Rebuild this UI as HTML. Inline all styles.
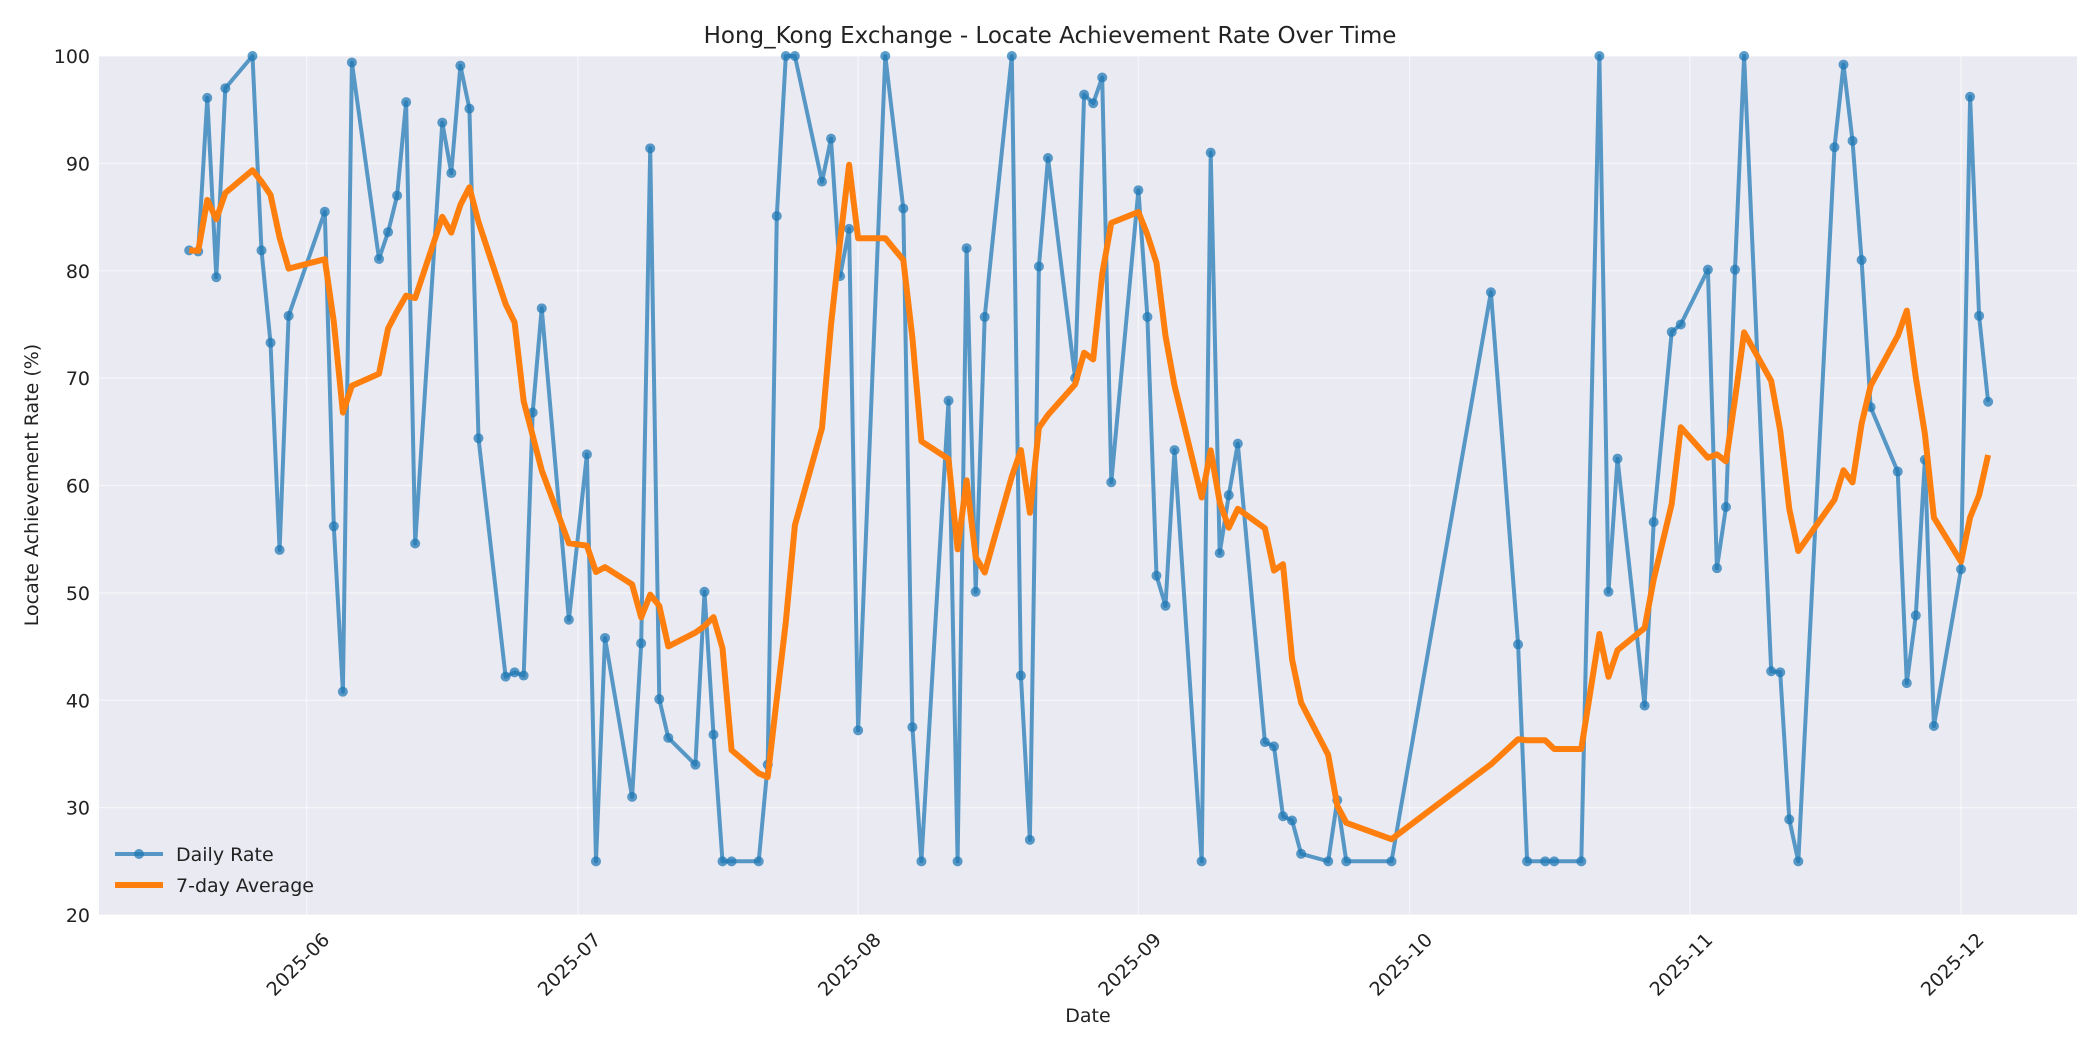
<!DOCTYPE html>
<html><head><meta charset="utf-8"><style>
body{margin:0;background:#fff}
svg{display:block;font-family:"DejaVu Sans","Liberation Sans",sans-serif}
</style></head><body>
<svg id="chart" width="2100" height="1050" viewBox="0 0 2100 1050" xmlns="http://www.w3.org/2000/svg">
<rect x="0" y="0" width="2100" height="1050" fill="#fff"/>
<rect x="99" y="56" width="1978" height="859" fill="#eaeaf2"/>
<g id="grid"></g>
<g id="ticks"></g>
<g id="series"></g>
<text x="1050" y="43" font-size="23" text-anchor="middle" fill="#222">Hong_Kong Exchange - Locate Achievement Rate Over Time</text>
<text x="1088" y="1022" font-size="19" text-anchor="middle" fill="#222">Date</text>
<text transform="translate(38,485) rotate(-90)" font-size="19" text-anchor="middle" fill="#222">Locate Achievement Rate (%)</text>
<g>
<line x1="115" y1="854" x2="163" y2="854" stroke="#1f77b4" stroke-opacity="0.72" stroke-width="4"/>
<circle cx="139" cy="854" r="5" fill="#1f77b4" fill-opacity="0.72"/>
<text x="176" y="861" font-size="19" fill="#222">Daily Rate</text>
<line x1="115" y1="885" x2="163" y2="885" stroke="#ff7f0e" stroke-width="6"/>
<text x="176" y="892" font-size="19" fill="#222">7-day Average</text>
</g>
</svg>
<script>
// day offsets from 2025-06-01
const days=[-13,-12,-11,-10,-9,-6,-5,-4,-3,-2,2,3,4,5,8,9,10,11,12,15,16,17,18,19,22,23,24,25,26,29,31,32,33,36,37,38,39,40,43,44,45,46,47,50,51,52,53,54,57,58,59,60,61,64,66,67,68,71,72,73,74,75,78,79,80,81,82,85,86,87,88,89,92,93,94,95,96,99,100,101,102,103,106,107,108,109,110,113,114,115,120,131,134,135,137,138,141,143,144,145,148,149,151,152,155,156,157,158,159,162,163,164,165,169,170,171,172,173,176,177,178,179,180,183,184,185,186];
const rates=[81.9,81.8,96.1,79.4,97,100,81.9,73.3,54,75.8,85.5,56.2,40.8,99.4,81.1,83.6,87,95.7,54.6,93.8,89.1,99.1,95.1,64.4,42.2,42.6,42.3,66.8,76.5,47.5,62.9,25,45.8,31,45.3,91.4,40.1,36.5,34,50.1,36.8,25,25,25,34,85.1,100,100,88.3,92.3,79.5,83.9,37.2,100,85.8,37.5,25,67.9,25,82.1,50.1,75.7,100,42.3,27,80.4,90.5,70,96.4,95.6,98,60.3,87.5,75.7,51.6,48.8,63.3,25,91,53.7,59.1,63.9,36.1,35.7,29.2,28.8,25.7,25,30.7,25,25,78,45.2,25,25,25,25,100,50.1,62.5,39.5,56.6,74.3,75,80.1,52.3,58,80.1,100,42.7,42.6,28.9,25,91.5,99.2,92.1,81,67.3,61.3,41.6,47.9,62.4,37.6,52.2,96.2,75.8,67.8];
const yTicks=[20,30,40,50,60,70,80,90,100];
const xTickLabels=["2025-06","2025-07","2025-08","2025-09","2025-10","2025-11","2025-12"];
const xTickDays=[0,30,61,92,122,153,183];

const NS="http://www.w3.org/2000/svg";
const L=99,R=2077,T=56,B=915;
const x0=306.7, pxDay=9.04;
const X=d=>x0+d*pxDay;
const Y=v=>B-(v-20)/80*(B-T);
function mk(tag,attrs,parent){const e=document.createElementNS(NS,tag);for(const k in attrs)e.setAttribute(k,attrs[k]);parent.appendChild(e);return e;}
const grid=document.getElementById('grid'),ticks=document.getElementById('ticks'),series=document.getElementById('series');
yTicks.forEach(v=>{
  const g=mk('line',{x1:L,x2:R,y1:Y(v),y2:Y(v),stroke:'#fff','stroke-opacity':0.55,'stroke-width':1.3},grid);
  
  
  const t=mk('text',{x:L-9,y:Y(v)+7,'font-size':19,'text-anchor':'end',fill:'#222'},ticks);
  t.textContent=v;
  
  
});
xTickDays.forEach((d,i)=>{
  const g=mk('line',{x1:X(d),x2:X(d),y1:T,y2:B,stroke:'#fff','stroke-opacity':0.55,'stroke-width':1.3},grid);
  
  
  const t=mk('text',{transform:`translate(${X(d)+24},${B+26}) rotate(-45)`,'font-size':19,'text-anchor':'end',fill:'#222'},ticks);
  t.textContent=xTickLabels[i];
  
  
});
const dp=days.map((d,i)=>X(d).toFixed(1)+','+Y(rates[i]).toFixed(1)).join(' ');
const dl=mk('polyline',{points:dp,fill:'none',stroke:'#1f77b4','stroke-opacity':0.72,'stroke-width':4,'stroke-linejoin':'round'},series);


days.forEach((d,i)=>{
  const c=mk('circle',{cx:X(d),cy:Y(rates[i]),r:5,fill:'#1f77b4','fill-opacity':0.72},series);
  
  
});
const avg=rates.map((v,i)=>{const s=rates.slice(Math.max(0,i-6),i+1);return s.reduce((a,b)=>a+b,0)/s.length;});
const ap=days.map((d,i)=>X(d).toFixed(1)+','+Y(avg[i]).toFixed(1)).join(' ');
const al=mk('polyline',{points:ap,fill:'none',stroke:'#ff7f0e','stroke-width':6,'stroke-linejoin':'round'},series);


</script>
</body></html>
